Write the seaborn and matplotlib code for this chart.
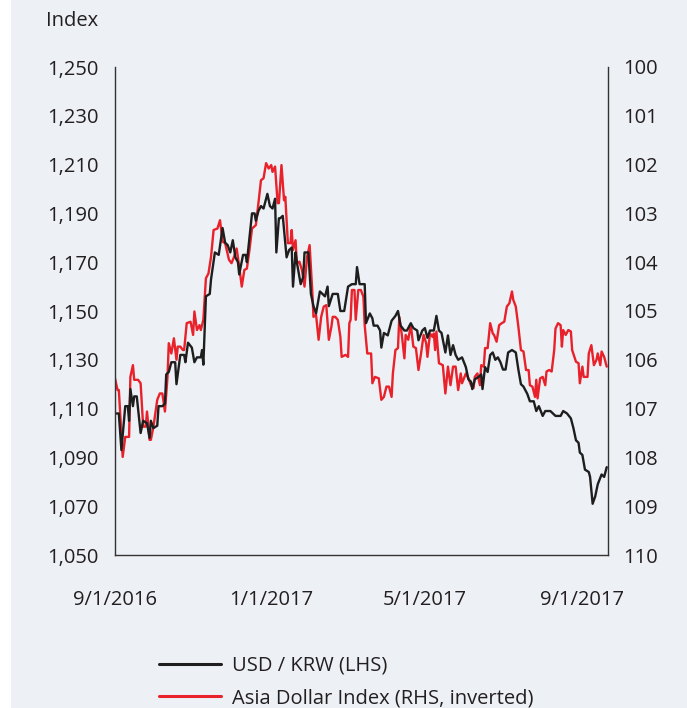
import pandas as pd
import numpy as np
import matplotlib
matplotlib.use("Agg")
import matplotlib.pyplot as plt
from matplotlib.lines import Line2D
from matplotlib.patches import Rectangle
from matplotlib.ticker import FuncFormatter
import seaborn as sns
import warnings
warnings.filterwarnings("ignore")

start_date = "2016-09-01"
end_date = "2017-09-21"

# USD / KRW, days since 9/1/2016 and level (left axis)
krw_days = [0, 3, 5, 8, 10, 11, 12, 14, 15, 17,
            20, 22, 25, 27, 28, 30, 33, 34, 37, 39,
            40, 42, 44, 47, 48, 51, 54, 55, 57, 60,
            62, 64, 67, 68, 69, 71, 74, 75, 78, 81,
            84, 86, 88, 90, 92, 94, 96, 97, 100, 102,
            103, 105, 107, 109, 110, 112, 114, 116, 119, 121,
            123, 125, 126, 128, 129, 131, 134, 136, 138, 139,
            141, 142, 145, 147, 148, 151, 153, 155, 157, 160,
            162, 164, 166, 167, 170, 174, 176, 179, 182, 185,
            188, 189, 191, 195, 196, 199, 201, 202, 205, 207,
            208, 210, 213, 216, 219, 221, 223, 226, 228, 231,
            233, 236, 237, 240, 242, 244, 246, 249, 251, 253,
            255, 258, 260, 262, 264, 266, 268, 271, 274, 276,
            278, 279, 281, 284, 286, 287, 289, 291, 293, 295,
            297, 299, 301, 303, 305, 307, 310, 313, 315, 317,
            319, 322, 324, 327, 329, 331, 334, 336, 340, 344,
            348, 350, 353, 356, 358, 360, 362, 363, 365, 367,
            370, 371, 373, 375, 377, 380, 382, 384]
krw_values = [1108, 1108, 1093, 1111, 1111, 1105, 1118, 1111, 1115, 1115,
              1100, 1105, 1104, 1098, 1105, 1102, 1103, 1111, 1111, 1112,
              1124, 1125, 1129, 1129, 1120, 1132, 1132, 1129, 1137, 1135,
              1129, 1131, 1131, 1134, 1128, 1156, 1157, 1163, 1174, 1173,
              1184, 1178, 1177, 1174, 1179, 1172, 1170, 1165, 1173, 1173,
              1170, 1180, 1190, 1190, 1187, 1191, 1193, 1192, 1198, 1193,
              1192, 1196, 1174, 1188, 1188, 1189, 1172, 1175, 1176, 1160,
              1174, 1170, 1161, 1164, 1174, 1174, 1157, 1152, 1149, 1158,
              1157, 1156, 1160, 1152, 1157, 1157, 1150, 1150, 1160, 1161,
              1161, 1168, 1161, 1161, 1145, 1149, 1147, 1144, 1144, 1142,
              1135, 1141, 1140, 1146, 1148, 1150, 1144, 1142, 1142, 1145,
              1143, 1142, 1138, 1142, 1143, 1139, 1142, 1142, 1148, 1142,
              1141, 1133, 1140, 1132, 1136, 1132, 1130, 1131, 1127, 1122,
              1121, 1118, 1122, 1123, 1124, 1118, 1127, 1125, 1132, 1133,
              1130, 1131, 1129, 1126, 1126, 1133, 1134, 1133, 1126, 1120,
              1119, 1116, 1113, 1113, 1109, 1111, 1107, 1109, 1109, 1107,
              1107, 1109, 1108, 1106, 1102, 1097, 1096, 1092, 1091, 1085,
              1084, 1082, 1071, 1074, 1079, 1083, 1082, 1086]

# Asia Dollar Index, days since 9/1/2016 and level (right axis, inverted)
adxy_days = [0, 2, 3, 6, 8, 11, 12, 14, 15, 18,
             20, 22, 24, 25, 27, 28, 30, 33, 35, 37,
             39, 41, 42, 44, 46, 48, 49, 51, 53, 54,
             56, 59, 61, 62, 64, 66, 67, 69, 71, 73,
             75, 77, 80, 82, 84, 86, 89, 91, 93, 95,
             97, 99, 101, 103, 105, 107, 110, 112, 114, 116,
             118, 120, 122, 123, 125, 127, 128, 130, 132, 133,
             135, 137, 138, 139, 141, 142, 144, 146, 148, 150,
             152, 154, 155, 157, 159, 161, 163, 165, 167, 169,
             170, 172, 174, 176, 177, 180, 182, 183, 184, 185,
             187, 188, 190, 192, 194, 195, 197, 200, 201, 203,
             206, 208, 210, 212, 214, 216, 217, 219, 221, 222,
             224, 226, 227, 229, 231, 233, 235, 237, 239, 241,
             243, 244, 246, 248, 249, 250, 251, 253, 256, 258,
             260, 262, 264, 266, 268, 270, 271, 274, 276, 278,
             280, 281, 283, 285, 286, 288, 289, 291, 293, 295,
             296, 298, 300, 302, 304, 306, 308, 310, 311, 313,
             315, 317, 319, 321, 323, 324, 326, 328, 329, 330,
             332, 334, 336, 337, 339, 341, 343, 344, 346, 348,
             349, 350, 352, 354, 356, 357, 360, 362, 363, 365,
             366, 369, 370, 372, 374, 376, 377, 379, 380, 382,
             384]
adxy_values = [106.38, 106.62, 106.62, 107.99, 107.58, 107.58, 106.35, 106.11, 106.41, 106.41,
               106.48, 107.37, 107.37, 107.06, 107.64, 107.64, 107.37, 106.82, 106.69, 106.69,
               107.06, 106.35, 105.66, 105.87, 105.56, 106.00, 105.73, 105.73, 105.80, 105.80,
               105.25, 105.22, 105.49, 105.01, 105.39, 105.29, 105.39, 105.18, 104.33, 104.23,
               103.89, 103.34, 103.31, 103.14, 103.58, 103.61, 103.95, 104.02, 103.89, 103.72,
               104.09, 104.50, 104.16, 104.13, 103.75, 103.31, 103.24, 102.79, 102.32, 102.28,
               101.97, 102.08, 102.01, 102.15, 102.04, 102.79, 102.79, 102.01, 102.73, 102.66,
               103.61, 103.61, 103.34, 103.75, 103.55, 104.02, 103.99, 104.16, 104.50, 103.89,
               103.65, 104.57, 105.12, 105.08, 105.59, 105.12, 104.91, 104.88, 105.59, 105.32,
               105.12, 105.12, 105.18, 105.53, 105.94, 105.90, 105.94, 105.25, 105.18, 104.57,
               104.57, 105.18, 104.57, 104.57, 104.71, 105.29, 105.87, 105.87, 106.48, 106.35,
               106.38, 106.82, 106.76, 106.55, 106.55, 106.76, 106.28, 105.80, 105.76, 105.12,
               105.49, 105.97, 105.49, 105.59, 105.29, 105.73, 105.76, 106.21, 105.87, 105.49,
               105.66, 105.94, 105.46, 105.53, 105.46, 105.80, 105.42, 106.07, 106.11, 106.69,
               106.14, 106.52, 106.14, 106.14, 106.62, 106.28, 106.48, 106.28, 106.38, 106.52,
               106.58, 106.35, 106.28, 106.52, 106.11, 106.14, 105.76, 105.76, 105.25, 105.46,
               105.49, 105.63, 105.29, 105.25, 105.22, 104.91, 104.84, 104.60, 104.77, 104.91,
               105.32, 105.80, 105.83, 106.21, 106.21, 106.52, 106.55, 106.76, 106.41, 106.79,
               106.38, 106.35, 106.52, 106.24, 106.21, 106.24, 105.80, 105.36, 105.25, 105.29,
               105.73, 105.39, 105.49, 105.39, 105.42, 105.80, 106.04, 106.07, 106.48, 106.14,
               106.35, 106.35, 105.87, 105.70, 106.11, 106.00, 105.87, 106.11, 105.83, 105.94,
               106.14]

xtick_dates = ["2016-09-01", "2017-01-01", "2017-05-01", "2017-09-01"]
xtick_labels = ["9/1/2016", "1/1/2017", "5/1/2017", "9/1/2017"]
left_ticks = list(range(1050, 1251, 20))
right_ticks = list(range(100, 111))
series_names = ["USD / KRW (LHS)", "Asia Dollar Index (RHS, inverted)"]
series_colors = ["#1e1e1e", "#e8212b"]

BG = "#edf0f4"
TXT = "#231f20"
FS = 14.5


def to_frame(days, values):
    dates = pd.Timestamp(start_date) + pd.to_timedelta(days, unit="D")
    return pd.DataFrame({"date": dates, "value": values})


def main():
    sns.set_theme(style="white")
    plt.rcParams["font.family"] = ["Open Sans", "DejaVu Sans"]
    plt.rcParams["text.color"] = TXT

    krw = to_frame(krw_days, krw_values)
    adxy = to_frame(adxy_days, adxy_values)

    fig = plt.figure(figsize=(6.87, 7.08), dpi=100, facecolor=BG)
    fig.patches.append(Rectangle((0, 0), 11 / 687, 1, transform=fig.transFigure,
                                 facecolor="white", edgecolor="none", zorder=0))
    ax = fig.add_axes([115 / 687, 1 - 555 / 708, (608 - 115) / 687, (555 - 67) / 708])
    ax2 = ax.twinx()

    sns.lineplot(data=krw, x="date", y="value", ax=ax, color=series_colors[0],
                 lw=1.7, estimator=None, legend=False)
    sns.lineplot(data=adxy, x="date", y="value", ax=ax2, color=series_colors[1],
                 lw=1.7, estimator=None, legend=False)

    # black line sits on top of the red one
    ax.set_zorder(ax2.get_zorder() + 1)
    ax.patch.set_visible(False)
    ax2.patch.set_visible(False)

    ax.set_xlim(pd.Timestamp(start_date), pd.Timestamp(end_date))
    ax.set_ylim(1050, 1250)
    ax2.set_ylim(110, 100)

    ax.set_xticks(pd.to_datetime(xtick_dates))
    ax.set_xticklabels(xtick_labels)
    ax.set_yticks(left_ticks)
    ax.yaxis.set_major_formatter(FuncFormatter(lambda v, p: f"{v:,.0f}"))
    ax2.set_yticks(right_ticks)

    ax.set_xlabel("")
    ax.set_ylabel("")
    ax2.set_ylabel("")

    ax.tick_params(axis="x", length=0, pad=25, labelsize=FS, labelcolor=TXT)
    ax.tick_params(axis="y", length=0, pad=12, labelsize=FS, labelcolor=TXT)
    ax2.tick_params(axis="y", length=0, pad=11, labelsize=FS, labelcolor=TXT)

    for a in (ax, ax2):
        for side in ("top", "left", "right", "bottom"):
            a.spines[side].set_visible(False)
    for a, side in ((ax, "left"), (ax, "bottom"), (ax2, "right")):
        a.spines[side].set_visible(True)
        a.spines[side].set_color("#333333")
        a.spines[side].set_linewidth(1.0)
    ax.grid(False)
    ax2.grid(False)

    fig.text(98 / 687, 1 - 21 / 708, "Index", ha="right", va="center",
             fontsize=FS, color=TXT)

    handles = [Line2D([], [], color=c, lw=2.2) for c in series_colors]
    fig.legend(handles, series_names, loc="upper left",
               bbox_to_anchor=(159 / 687, 1 - 656 / 708), frameon=False,
               fontsize=FS, handlelength=3.1, handletextpad=0.5,
               labelspacing=0.6, borderpad=0, borderaxespad=0)

    fig.savefig("out.png", dpi=100, facecolor=fig.get_facecolor())
    plt.close(fig)


if __name__ == "__main__":
    main()
